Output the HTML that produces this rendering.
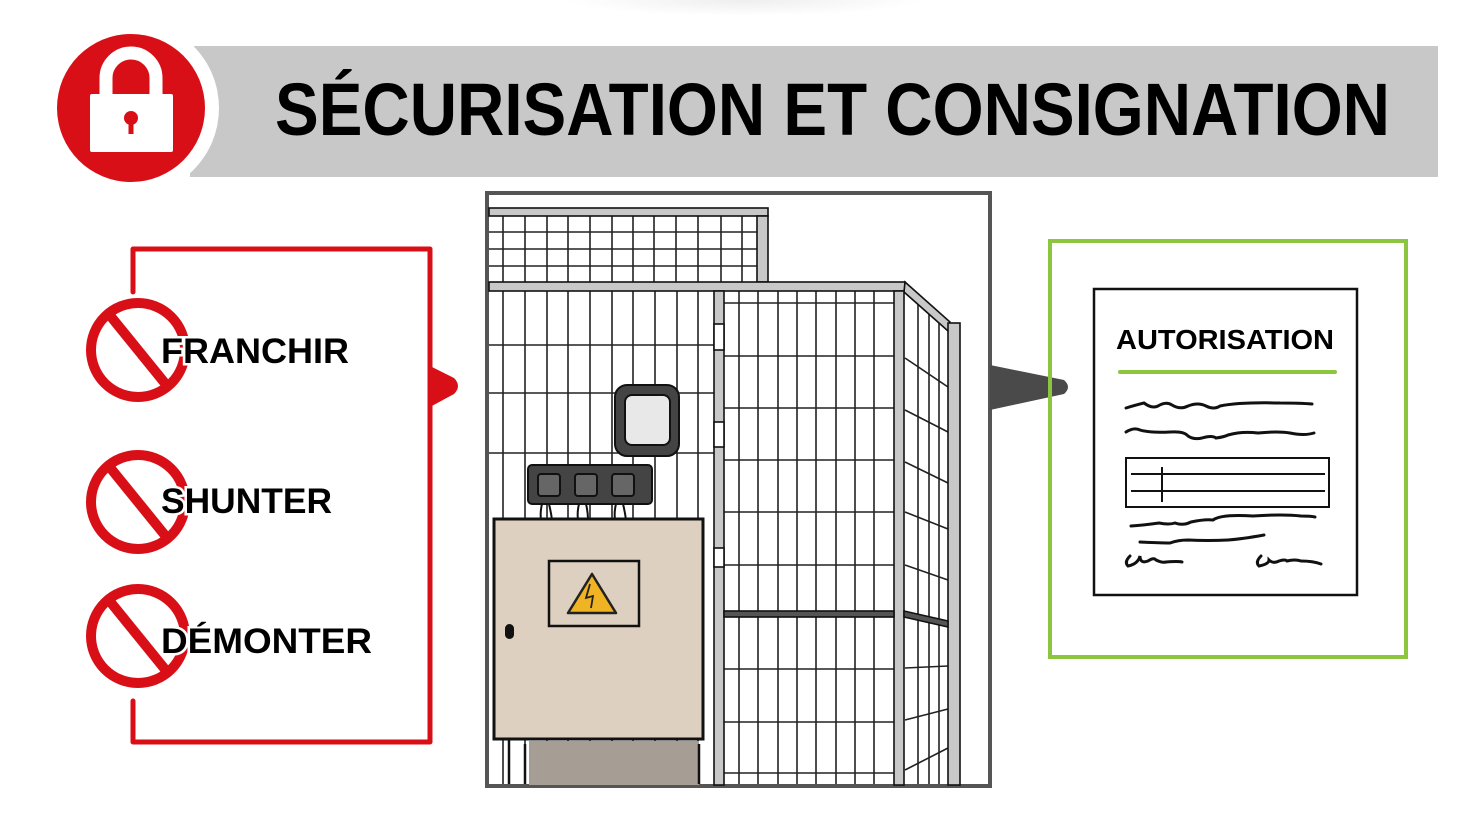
<!DOCTYPE html>
<html><head><meta charset="utf-8"><style>
html,body{margin:0;padding:0;background:#fff;width:1482px;height:822px;overflow:hidden}
svg{display:block}
text{font-family:"Liberation Sans",sans-serif;font-weight:bold}
</style></head><body>
<svg width="1482" height="822" viewBox="0 0 1482 822" xmlns="http://www.w3.org/2000/svg">
<defs>
<radialGradient id="g" cx="0.5" cy="0.5" r="0.5"><stop offset="0" stop-color="#eee"/><stop offset="1" stop-color="#fff"/></radialGradient>
</defs>
<ellipse cx="745" cy="0" rx="180" ry="16" fill="url(#g)"/>
<!-- header -->
<rect x="190" y="46" width="1248" height="131" fill="#c8c8c8"/>
<circle cx="131" cy="108" r="88" fill="#fff"/>
<circle cx="131" cy="108" r="74" fill="#d90f17"/>
<path d="M106 96 V78 a25 25 0 0 1 50 0 V96" fill="none" stroke="#fff" stroke-width="13"/>
<rect x="90" y="94" width="83" height="58" rx="2" fill="#fff"/>
<circle cx="131" cy="118" r="7" fill="#d90f17"/>
<rect x="128.5" y="120" width="5" height="14" fill="#d90f17"/>
<text x="275" y="135" font-size="74" textLength="1115" lengthAdjust="spacingAndGlyphs" fill="#000">SÉCURISATION ET CONSIGNATION</text>

<!-- red bracket -->
<path d="M133 292 V249 H430 V742 H133 V701" fill="none" stroke="#d90f17" stroke-width="5" stroke-linejoin="round" stroke-linecap="round"/>
<path d="M430 366 L454 378 Q462 386 454 394 L430 407 Z" fill="#d90f17"/>
<g fill="none" stroke="#d90f17" stroke-width="10">
<circle cx="138" cy="350" r="47"/><line x1="108" y1="313" x2="168" y2="387"/>
<circle cx="138" cy="502" r="47"/><line x1="108" y1="465" x2="168" y2="539"/>
<circle cx="138" cy="636" r="47"/><line x1="108" y1="599" x2="168" y2="673"/>
</g>
<g font-size="35" fill="#000" stroke="#fff" stroke-width="5" paint-order="stroke">
<text x="161" y="363" textLength="188" lengthAdjust="spacingAndGlyphs">FRANCHIR</text>
<text x="161" y="513" textLength="171" lengthAdjust="spacingAndGlyphs">SHUNTER</text>
<text x="161" y="653" textLength="211" lengthAdjust="spacingAndGlyphs">DÉMONTER</text>
</g>

<!-- fence frame -->
<rect x="487" y="193" width="503" height="593" fill="#fff" stroke="#555" stroke-width="4"/>
<g stroke="#222" stroke-width="1.6">
<!-- upper mesh -->
<g>
<line x1="503" y1="216" x2="503" y2="282"/><line x1="525" y1="216" x2="525" y2="282"/><line x1="547" y1="216" x2="547" y2="282"/><line x1="568" y1="216" x2="568" y2="282"/><line x1="590" y1="216" x2="590" y2="282"/><line x1="612" y1="216" x2="612" y2="282"/><line x1="633" y1="216" x2="633" y2="282"/><line x1="654" y1="216" x2="654" y2="282"/><line x1="676" y1="216" x2="676" y2="282"/><line x1="698" y1="216" x2="698" y2="282"/><line x1="721" y1="216" x2="721" y2="282"/><line x1="742" y1="216" x2="742" y2="282"/>
<line x1="489" y1="232" x2="757" y2="232"/><line x1="489" y1="249" x2="757" y2="249"/><line x1="489" y1="266" x2="757" y2="266"/>
</g>
<!-- left mesh -->
<line x1="503" y1="290" x2="503" y2="784"/><line x1="525" y1="290" x2="525" y2="784"/><line x1="547" y1="290" x2="547" y2="784"/><line x1="568" y1="290" x2="568" y2="784"/><line x1="590" y1="290" x2="590" y2="784"/><line x1="612" y1="290" x2="612" y2="784"/><line x1="633" y1="290" x2="633" y2="784"/><line x1="655" y1="290" x2="655" y2="784"/><line x1="677" y1="290" x2="677" y2="784"/><line x1="698" y1="290" x2="698" y2="784"/>
<line x1="489" y1="345" x2="714" y2="345"/><line x1="489" y1="393" x2="714" y2="393"/><line x1="489" y1="453" x2="714" y2="453"/>
<!-- middle mesh -->
<line x1="739" y1="290" x2="739" y2="784"/><line x1="758" y1="290" x2="758" y2="784"/><line x1="778" y1="290" x2="778" y2="784"/><line x1="797" y1="290" x2="797" y2="784"/><line x1="816" y1="290" x2="816" y2="784"/><line x1="836" y1="290" x2="836" y2="784"/><line x1="855" y1="290" x2="855" y2="784"/><line x1="874" y1="290" x2="874" y2="784"/>
<line x1="724" y1="303" x2="894" y2="303"/><line x1="724" y1="356" x2="894" y2="356"/><line x1="724" y1="408" x2="894" y2="408"/><line x1="724" y1="460" x2="894" y2="460"/><line x1="724" y1="512" x2="894" y2="512"/><line x1="724" y1="565" x2="894" y2="565"/><line x1="724" y1="669" x2="894" y2="669"/><line x1="724" y1="722" x2="894" y2="722"/><line x1="724" y1="773" x2="894" y2="773"/>
<!-- side mesh -->
<line x1="918" y1="295" x2="918" y2="784"/><line x1="929" y1="305" x2="929" y2="784"/><line x1="939" y1="315" x2="939" y2="784"/>
<line x1="905" y1="358" x2="948" y2="387"/><line x1="905" y1="410" x2="948" y2="432"/><line x1="905" y1="462" x2="948" y2="483"/><line x1="905" y1="512" x2="948" y2="529"/><line x1="905" y1="565" x2="948" y2="580"/><line x1="905" y1="668" x2="948" y2="666"/><line x1="905" y1="720" x2="948" y2="709"/><line x1="905" y1="770" x2="948" y2="748"/>
</g>
<g stroke="#111" stroke-width="1.6" fill="#c8c8c8">
<rect x="489" y="208" width="279" height="8"/>
<rect x="757" y="216" width="11" height="66"/>
<rect x="489" y="282" width="416" height="9"/>
<polygon points="905,282 950,322 948,331 904,292"/>
<rect x="714" y="291" width="10" height="494"/>
<rect x="714" y="324" width="10" height="26" fill="#fff"/>
<rect x="714" y="422" width="10" height="25" fill="#fff"/>
<rect x="714" y="548" width="10" height="19" fill="#fff"/>
<rect x="894" y="291" width="10" height="494"/>
<rect x="948" y="323" width="12" height="462"/>
<rect x="724" y="611" width="170" height="6" fill="#555"/>
<polygon points="904,611 948,621 948,627 904,617" fill="#555"/>
</g>
<!-- cabinet -->
<rect x="529" y="741" width="170" height="44" fill="#a69e94"/>
<line x1="509" y1="740" x2="509" y2="784" stroke="#111" stroke-width="2.5"/>
<line x1="525" y1="744" x2="525" y2="784" stroke="#111" stroke-width="2.5"/>
<line x1="699" y1="744" x2="699" y2="784" stroke="#111" stroke-width="2.5"/>
<g stroke="#111" stroke-width="2" fill="none">
<path d="M542 504 q-2 8 -1 16 M549 504 q2 8 3 16 M579 504 q-2 8 -1 16 M586 504 q2 8 2 16 M616 504 q-2 8 -1 16 M623 504 q2 8 3 16"/>
</g>
<rect x="494" y="519" width="209" height="220" fill="#ddd0c0" stroke="#111" stroke-width="3"/>
<rect x="549" y="561" width="90" height="65" fill="#ddd0c0" stroke="#111" stroke-width="2.5"/>
<polygon points="592,574 568,613 616,613" fill="#f0b323" stroke="#222" stroke-width="2.5" stroke-linejoin="round"/>
<path d="M590 584 L586 598 L593 596 L591 608" fill="none" stroke="#222" stroke-width="1.8"/>
<rect x="505" y="624" width="9" height="15" rx="4.5" fill="#111"/>
<rect x="528" y="465" width="124" height="39" rx="4" fill="#444" stroke="#111" stroke-width="2"/>
<g fill="#666" stroke="#111" stroke-width="2">
<rect x="538" y="474" width="22" height="22" rx="3"/><rect x="575" y="474" width="22" height="22" rx="3"/><rect x="612" y="474" width="22" height="22" rx="3"/>
</g>
<rect x="615" y="385" width="64" height="71" rx="12" fill="#444" stroke="#111" stroke-width="2"/>
<rect x="625" y="395" width="45" height="50" rx="7" fill="#e8e8e8" stroke="#111" stroke-width="2"/>

<!-- dark pointer -->
<path d="M990 365 L1064 380 Q1072 387 1064 394 L990 410 Z" fill="#4a4a4a"/>

<!-- green box & document -->
<rect x="1050" y="241" width="356" height="416" fill="none" stroke="#8cc63f" stroke-width="4"/>
<rect x="1094" y="289" width="263" height="306" fill="#fff" stroke="#111" stroke-width="2.5"/>
<text x="1116" y="349" font-size="28" textLength="218" lengthAdjust="spacingAndGlyphs" fill="#000">AUTORISATION</text>
<line x1="1120" y1="372" x2="1335" y2="372" stroke="#8cc63f" stroke-width="4" stroke-linecap="round"/>
<g fill="none" stroke="#111" stroke-width="3" stroke-linecap="round">
<path d="M1126 408 q10 -3 18 -5 q8 6 14 3 q8 -5 14 -1 q8 5 16 1 q10 -4 18 0 q8 4 14 0 q20 -4 60 -3 q20 0 32 1"/>
<path d="M1126 432 q8 -5 14 -2 q10 3 30 2 q14 -1 18 4 q6 4 14 2 q10 -3 14 0 q8 -1 12 -3 q14 -4 30 -2 q20 -2 32 0 q14 3 24 0"/>
<path d="M1131 526 q14 -1 28 -3 q10 2 16 0 q8 3 16 -1 q14 -3 22 -2 q8 -6 40 -4 q30 -2 48 0 q10 0 14 1"/>
<path d="M1140 542 q20 1 30 1 q8 -3 18 -3 q20 1 40 0 q14 -1 36 -5"/>
<path d="M1130 556 q-6 6 -2 10 q10 -2 12 -10 q0 8 8 5 q6 -4 8 -1 q6 3 10 2 q12 -1 16 0"/>
<path d="M1261 556 q-6 6 -2 10 q10 -2 10 -6 q4 4 10 1 q6 -2 8 0 q8 -2 14 0 q12 0 20 3"/>
</g>
<rect x="1126" y="458" width="203" height="49" fill="none" stroke="#111" stroke-width="2"/>
<g stroke="#111" stroke-width="2">
<line x1="1131" y1="474" x2="1325" y2="474"/><line x1="1131" y1="491" x2="1325" y2="491"/><line x1="1162" y1="467" x2="1162" y2="502"/>
</g>
</svg>
</body></html>
